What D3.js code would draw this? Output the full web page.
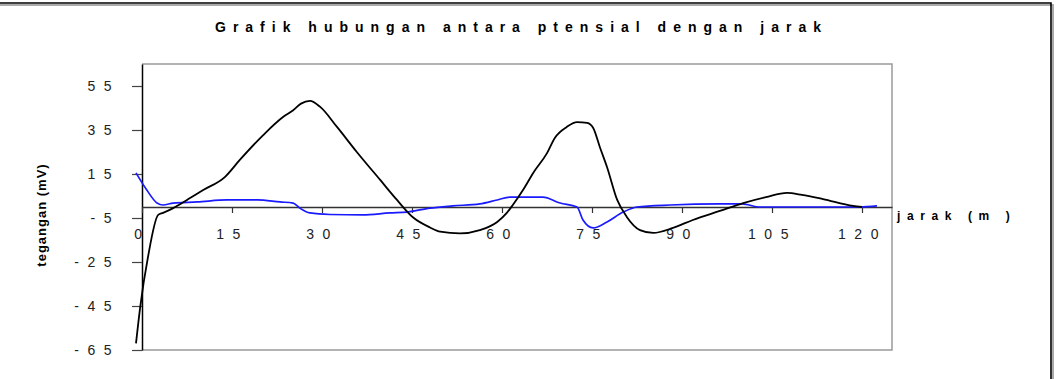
<!DOCTYPE html>
<html>
<head>
<meta charset="utf-8">
<script src="https://cdn.jsdelivr.net/npm/d3@7"></script>
<style>
  body { margin: 0; background: #fff; }
  svg { display: block; font-family: Arial, "Liberation Sans", sans-serif; }
</style>
</head>
<body>
<div class="graph-container"></div>
<script>
// Data: jarak (m) and tegangan (mV)
const blackX = [-1, -0.3, 1, 2.7, 3.5, 5.2, 7.5, 10.2, 13.8, 16.3, 20.2, 23.5, 25.2, 26.5, 28, 29.7, 32.5, 35.8, 39.7, 42.5, 45.2, 48, 49.7, 53, 56.3, 59.2, 60.8, 61.8, 63.5, 65.2, 67.5, 68.8, 70.8, 72.5, 74.2, 75.2, 76.3, 77.5, 79.2, 80.8, 83, 85.2, 88.5, 91.8, 96.3, 100.2, 104, 107.5, 110, 113.5, 118.5, 120];
const blackY = [-62, -45.5, -22.7, -3.6, -2.7, -0.5, 3.2, 7.7, 13.6, 21.4, 32.7, 40.9, 44, 47, 48.2, 45.5, 36.4, 25, 12.3, 3.2, -4.8, -9.3, -11.2, -12, -10.5, -6.8, -2.7, 0.9, 7.7, 15.5, 24.5, 31.4, 36.4, 38.6, 38.2, 35.9, 27.3, 18.2, 3.2, -4.5, -10.5, -11.8, -9.5, -5.9, -1.8, 1.8, 4.5, 6.4, 5.5, 3.6, 0.5, 0];

const blueX = [-1, 0.8, 2.5, 3.5, 5.2, 9.2, 14.2, 19.2, 23, 25.2, 26.3, 28, 31.3, 36.8, 41.3, 44.2, 48, 51.8, 56.3, 59.2, 61.3, 66.8, 69.7, 72.5, 73.5, 75.2, 77.5, 80.2, 82.5, 88, 96.3, 100, 103, 119.7, 122.5];
const blueY = [15.5, 7.7, 1.8, 0.9, 1.8, 2.3, 3.2, 3.2, 2.3, 1.8, -0.5, -2.7, -3.4, -3.6, -2.7, -2.3, -0.5, 0.5, 1.4, 3.2, 4.5, 4.5, 1.8, 0, -5.9, -9.5, -6.8, -2.3, 0, 0.9, 1.4, 1.4, 0, 0, 0.5];

const xTicks = [0, 15, 30, 45, 60, 75, 90, 105, 120];
const yTicks = [55, 35, 15, -5, -25, -45, -65];

const titleText = 'Grafik hubungan antara ptensial dengan jarak';
const xTitle = 'jarak (m )';
const yTitle = 'tegangan (mV)';

const W = 1059, H = 379;
const svg = d3.select('.graph-container')
    .append('svg')
    .attr('width', W)
    .attr('height', H);

// cadre du graphique (coupé à gauche et en bas)
svg.append('path')
    .attr('d', `M-5,4 H1052 V${H + 5}`)
    .attr('fill', 'none')
    .attr('stroke', '#aaa')
    .attr('stroke-width', 2)
    .attr('transform', 'translate(1,1)');
svg.append('path')
    .attr('d', `M-5,3 H1051 V${H + 5}`)
    .attr('fill', 'none')
    .attr('stroke', '#000')
    .attr('stroke-width', 1.6);

// zone de tracé
const plotL = 142, plotR = 892, plotT = 64, plotB = 350;

const x = d3.scaleLinear().domain([0, 125]).range([plotL, plotR]);
const y = d3.scaleLinear().domain([-65, 65]).range([plotB, plotT]);

svg.append('path')
    .attr('d', `M${plotL},${plotT} H${plotR} V${plotB} H${plotL}`)
    .attr('fill', 'none')
    .attr('stroke', '#9a9a9a')
    .attr('stroke-width', 1.5);

// axe Y
const yAxis = svg.append('g')
    .attr('transform', `translate(${plotL},0)`)
    .call(d3.axisLeft(y)
        .tickValues(yTicks)
        .tickFormat(d => String(d))
        .tickSizeInner(10)
        .tickSizeOuter(0)
        .tickPadding(12));
yAxis.select('.domain').attr('stroke', '#000').attr('stroke-width', 1.5);
yAxis.selectAll('.tick line').attr('stroke', '#444').attr('stroke-width', 1.2);
yAxis.selectAll('.tick text')
    .attr('font-size', 14)
    .attr('letter-spacing', '8.5px')
    .attr('fill', '#222')
    .attr('font-family', 'Arial, "Liberation Sans", sans-serif');

// axe X (croise à y = 0)
const xAxis = svg.append('g')
    .attr('transform', `translate(0,${y(0)})`)
    .call(d3.axisBottom(x)
        .tickValues(xTicks)
        .tickFormat(d => String(d))
        .tickSizeInner(6)
        .tickSizeOuter(0)
        .tickPadding(16));
xAxis.select('.domain').attr('stroke', '#333').attr('stroke-width', 1.5);
xAxis.selectAll('.tick line').attr('stroke', '#333').attr('stroke-width', 1.2);
xAxis.selectAll('.tick text')
    .attr('font-size', 14)
    .attr('letter-spacing', '8.5px')
    .attr('fill', '#222')
    .attr('font-family', 'Arial, "Liberation Sans", sans-serif');

// courbes
const line = d3.line()
    .x(d => x(d[0]))
    .y(d => y(d[1]))
    .curve(d3.curveMonotoneX);

svg.append('path')
    .datum(d3.zip(blueX, blueY))
    .attr('fill', 'none')
    .attr('stroke', '#1a1aff')
    .attr('stroke-width', 1.7)
    .attr('d', line);

svg.append('path')
    .datum(d3.zip(blackX, blackY))
    .attr('fill', 'none')
    .attr('stroke', '#000')
    .attr('stroke-width', 1.8)
    .attr('d', line);

// titres
svg.append('text')
    .attr('x', 215)
    .attr('y', 32)
    .attr('font-size', 14)
    .attr('font-weight', 'bold')
    .attr('letter-spacing', '7px')
    .text(titleText);

svg.append('text')
    .attr('x', 897)
    .attr('y', 220)
    .attr('font-size', 12)
    .attr('font-weight', 'bold')
    .attr('letter-spacing', '6.6px')
    .text(xTitle);

svg.append('text')
    .attr('transform', 'translate(46,215) rotate(-90)')
    .attr('text-anchor', 'middle')
    .attr('font-size', 13)
    .attr('font-weight', 'bold')
    .attr('letter-spacing', '1px')
    .text(yTitle);
</script>
</body>
</html>
